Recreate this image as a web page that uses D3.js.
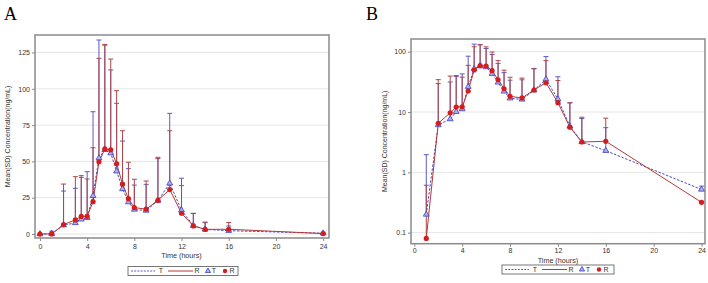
<!DOCTYPE html>
<html><head><meta charset="utf-8">
<script src="https://cdn.jsdelivr.net/npm/d3@7"></script>
<style>
html,body{margin:0;padding:0;background:#fff;}
svg text{font-family:"Liberation Sans",Arial,sans-serif;}
</style>
</head><body>
<svg id="c" width="708" height="283"></svg>
<script>
const times = [0,1,2,3,3.5,4,4.5,5,5.5,6,6.5,7,7.5,8,9,10,11,12,13,14,16,24];
const meanT = [0,0.2,6.1,7.65,10.1,11.2,26.3,52.3,58,55.7,43.2,31,22,16.9,16.2,23,34.9,16.4,5.8,3.2,2.28,0.52];
const meanR = [0,0.08,6.5,9.7,12.1,12.2,22.3,49.7,58.6,58,48.4,34.3,24.3,18.2,17.1,23.2,30.6,14.3,5.6,3.18,3.27,0.318];
const upperT = [0,1.96,29.6,31.5,39,42.9,84.2,133.6,130,113,90,64,45,33.7,34.2,52.8,83.1,38.4,14.2,7.8,5.5,0.59];
const upperR = [0,0.61,34.4,39.5,40.2,37.9,59.4,121,130.6,120.5,98.7,71.1,49.4,37.7,36.5,51.9,71.1,33.3,14.2,8.2,7.9,0.33];
const xTicks = [0,4,8,12,16,20,24];
const yTicksLin = [0,25,50,75,100,125];
const yTicksLog = [0.1,1,10,100];
const panelLabels = ["A","B"];
const yTitle = "Mean(SD) Concentration(ng/mL)";
const xTitle = "Time (hours)";
const legendItems = ["T","R","T","R"];

const C = {
  tLine:"#4a4ac4", rLine:"#b23a3a", tErr:"#5a5ac8", rErr:"#b04646",
  rDot:"#d41e1e", tTriFill:"#aeb0ea", tTriStroke:"#3f3fbf",
  grid:"#e6e6e6", frame:"#8a8a8a", text:"#333"
};

const svg = d3.select("#c");
const rows = times.map((t,i)=>({t, mT:meanT[i], mR:meanR[i], uT:upperT[i], uR:upperR[i]}));

function panel(cfg){
  const g = svg.append("g");
  const x = d3.scaleLinear().domain(cfg.xDom).range([cfg.L, cfg.R]);
  const y = cfg.log ? d3.scaleLog().domain(cfg.yDom).range([cfg.B, cfg.T])
                    : d3.scaleLinear().domain(cfg.yDom).range([cfg.B, cfg.T]);
  const ok = v => cfg.log ? v > 0 : true;
  g.selectAll(".grid").data(cfg.yTicks).join("line")
    .attr("x1",cfg.L).attr("x2",cfg.R).attr("y1",d=>y(d)).attr("y2",d=>y(d))
    .attr("stroke",C.grid).attr("stroke-width",1);
  const xa = g.append("g").attr("transform",`translate(0,${cfg.B})`)
    .call(d3.axisBottom(x).tickValues(xTicks).tickSize(3).tickPadding(cfg.xPad).tickFormat(d3.format("d")));
  const ya = g.append("g").attr("transform",`translate(${cfg.L},0)`)
    .call(d3.axisLeft(y).tickValues(cfg.yTicks).tickSize(3).tickPadding(2)
      .tickFormat(cfg.log ? (d=>String(d)) : d3.format("d")));
  [xa,ya].forEach(a=>{
    a.select(".domain").remove();
    a.selectAll("line").attr("stroke",C.frame);
    a.selectAll("text").attr("fill",C.text).style("font-size","7px");
  });
  g.append("rect").attr("x",cfg.L).attr("y",cfg.T).attr("width",cfg.R-cfg.L).attr("height",cfg.B-cfg.T)
    .attr("fill","none").attr("stroke",C.frame).attr("stroke-width",1.5);
  function err(key, mkey, col){
    const d = rows.filter(r=>ok(r[mkey]) && r[key] > r[mkey]);
    g.selectAll(null).data(d).join("line")
      .attr("x1",r=>x(r.t)).attr("x2",r=>x(r.t)).attr("y1",r=>y(r[mkey])).attr("y2",r=>y(r[key]))
      .attr("stroke",col).attr("stroke-width",1);
    g.selectAll(null).data(d).join("line")
      .attr("x1",r=>x(r.t)-2.5).attr("x2",r=>x(r.t)+2.5).attr("y1",r=>y(r[key])).attr("y2",r=>y(r[key]))
      .attr("stroke",col).attr("stroke-width",1);
  }
  err("uT","mT",C.tErr);
  err("uR","mR",C.rErr);
  const lT = d3.line().x(r=>x(r.t)).y(r=>y(r.mT));
  const lR = d3.line().x(r=>x(r.t)).y(r=>y(r.mR));
  g.append("path").datum(rows.filter(r=>ok(r.mT))).attr("d",lT).attr("fill","none")
    .attr("stroke",C.tLine).attr("stroke-width",1).attr("stroke-dasharray","2.5,1.5");
  g.append("path").datum(rows.filter(r=>ok(r.mR))).attr("d",lR).attr("fill","none")
    .attr("stroke",C.rLine).attr("stroke-width",1);
  const tri = d3.symbol().type(d3.symbolTriangle).size(15);
  g.selectAll(null).data(rows.filter(r=>ok(r.mT))).join("path")
    .attr("d",tri).attr("transform",r=>`translate(${x(r.t)},${y(r.mT)})`)
    .attr("fill",C.tTriFill).attr("stroke",C.tTriStroke).attr("stroke-width",0.8);
  g.selectAll(null).data(rows.filter(r=>ok(r.mR))).join("circle")
    .attr("cx",r=>x(r.t)).attr("cy",r=>y(r.mR)).attr("r",2.6).attr("fill",C.rDot);
  g.append("text").attr("x",(x(0)+x(24))/2).attr("y",cfg.xTitleY).attr("text-anchor","middle")
    .attr("dominant-baseline","middle").style("font-size","7.2px").attr("fill",C.text).text(xTitle);
  g.append("text").attr("transform",`translate(${cfg.yTitleX},${(cfg.T+cfg.B)/2}) rotate(-90)`)
    .attr("text-anchor","middle").attr("dominant-baseline","middle").style("font-size","7px")
    .attr("fill",C.text).text(yTitle);
  g.append("text").attr("x",cfg.labX).attr("y",20).style("font-family","'Liberation Serif','Times New Roman',serif")
    .style("font-size","18px").attr("fill","#000").text(cfg.label);
  const lg = g.append("g").attr("transform",`translate(${cfg.legX},${cfg.legY})`);
  lg.append("rect").attr("x",0).attr("y",-4.5).attr("width",cfg.legW).attr("height",9)
    .attr("fill","#fff").attr("stroke","#555").attr("stroke-width",0.8);
  lg.append("line").attr("x1",3).attr("x2",27).attr("y1",0).attr("y2",0)
    .attr("stroke",C.tLine).attr("stroke-dasharray","2,1.2").attr("stroke-width",0.9);
  lg.append("line").attr("x1",40).attr("x2",65).attr("y1",0).attr("y2",0)
    .attr("stroke",C.rLine).attr("stroke-width",1);
  lg.append("path").attr("d",d3.symbol().type(d3.symbolTriangle).size(12)).attr("transform","translate(80,0)")
    .attr("fill",C.tTriFill).attr("stroke",C.tTriStroke).attr("stroke-width",0.8);
  lg.append("circle").attr("cx",97).attr("cy",0).attr("r",2.2).attr("fill",C.rDot);
  const tx = [33,69,86,104];
  lg.selectAll(null).data(legendItems).join("text")
    .attr("x",(d,i)=>tx[i]).attr("y",0.5).attr("dominant-baseline","middle")
    .attr("text-anchor","middle").style("font-size","7px").attr("fill",C.text).text(d=>d);
}

panel({label:panelLabels[0], labX:4, log:false, L:35, R:329, T:35, B:238,
  xDom:[-0.42,24.5], yDom:[-2.75,137.05], yTicks:yTicksLin, xPad:3,
  xTitleY:256, yTitleX:8, legX:128, legY:271, legW:110});
panel({label:panelLabels[1], labX:366, log:true, L:411, R:705, T:39, B:243.7,
  xDom:[-0.276,24.29], yDom:[0.0655,162.5], yTicks:yTicksLog, xPad:1.5,
  xTitleY:261, yTitleX:385, legX:502, legY:269.5, legW:112});
</script>
</body></html>
